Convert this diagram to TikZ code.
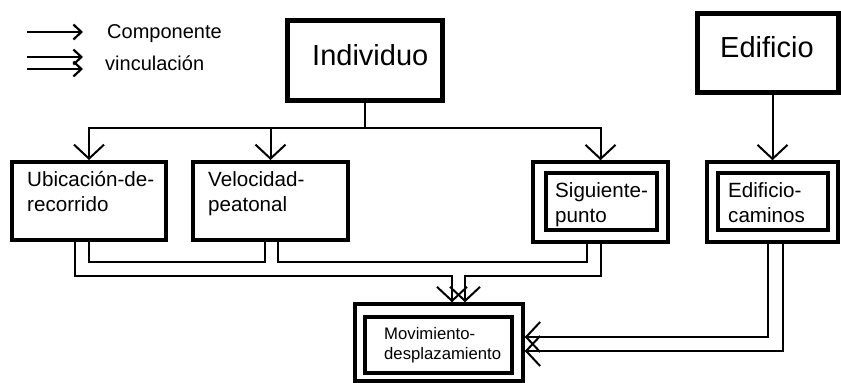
\documentclass[tikz,border=0pt]{standalone}
\usepackage{fontspec}
\setmainfont{Liberation Sans}
\usetikzlibrary{arrows.meta}
\begin{document}
\begin{tikzpicture}[x=1pt,y=-1pt,
  box/.style={draw, line width=4pt, inner sep=0pt, line join=miter},
  bigbox/.style={box, line width=5pt},
  outerbox/.style={box, line width=3.5pt},
  lbl/.style={inner sep=0pt, anchor=north west, align=left,
    font=\fontsize{20.6}{25}\selectfont},
  biglbl/.style={inner sep=0pt, anchor=base west, font=\fontsize{29}{34}\selectfont},
  link/.style={line width=2pt},
  arr/.style={link, -{Straight Barb[length=14pt,width=30pt,line join=miter]}},
  keyarr/.style={line width=2.2pt, -{Straight Barb[length=8pt,width=15pt,line join=miter]}}]
\useasboundingbox (0,0) rectangle (841,383);

% legend
\coordinate (k1a) at (27,32);  \coordinate (k1b) at (83,32);
\coordinate (k2a) at (27,57);  \coordinate (k2b) at (83,57);
\coordinate (k3a) at (27,69);  \coordinate (k3b) at (83,69);
\draw[keyarr] (k1a) -- (k1b);
\draw[keyarr] (k2a) -- (k2b);
\draw[keyarr] (k3a) -- (k3b);
\node[inner sep=0pt, anchor=base west, font=\fontsize{20}{24}\selectfont] (kcomp) at (107,38) {Componente};
\node[inner sep=0pt, anchor=base west, font=\fontsize{20}{24}\selectfont] (kvinc) at (105,70) {vinculación};

% entities
\node[bigbox, minimum width=155pt, minimum height=80pt] (ind) at (364.5,60) {};
\node[biglbl] (indt) at (312,65) {Individuo};
\node[bigbox, minimum width=141pt, minimum height=79pt] (edi) at (767.5,52.5) {};
\node[biglbl] (edit) at (720,57) {Edificio};

% components
\node[box, minimum width=154pt, minimum height=78pt] (ubi) at (89,201) {};
\node[lbl] (ubit) at (27,171) {Ubicación-de-\\recorrido};
\node[box, minimum width=155pt, minimum height=78pt] (vel) at (270.5,201) {};
\node[lbl] (velt) at (208,171) {Velocidad-\\peatonal};

% linked components
\node[outerbox, minimum width=135pt, minimum height=80pt] (sigO) at (600.5,202) {};
\node[box, minimum width=111pt, minimum height=57pt] (sigI) at (601.5,201.5) {};
\node[lbl] (sigt) at (555,182) {Siguiente-\\punto};
\node[outerbox, minimum width=131pt, minimum height=80pt] (ecO) at (772.5,202) {};
\node[box, minimum width=110pt, minimum height=57pt] (ecI) at (773,201.5) {};
\node[lbl] (ect) at (728,182) {Edificio-\\caminos};
\node[outerbox, minimum width=168pt, minimum height=77pt] (movO) at (439,342.5) {};
\node[box, minimum width=147pt, minimum height=56pt] (movI) at (438.5,345) {};
\node[lbl, font=\fontsize{16.7}{20}\selectfont] (movt) at (384,327) {Movimiento-\\desplazamiento};

% component connectors
\draw[link] (ind.south) -- (ind.south |- 0,128) coordinate (hub);
\draw[arr] (hub) -| (ubi.north);
\draw[arr] (hub) -| (vel.north);
\draw[arr] (hub) -| (sigO.north);
\draw[arr] (ecO.north |- edi.south) -- (ecO.north);

% links between components
\draw[link] (ubi.south) -- ++(0,20) -| ([xshift=-5.5pt]vel.south);
\draw[link] ([xshift=7.5pt]vel.south) -- ++(0,20) -| ([xshift=-13.5pt]sigO.south);
\draw[arr] ([xshift=-14pt]ubi.south) -- ++(0,34) -| ([xshift=13pt]movO.north);
\draw[arr] (sigO.south) -- ++(0,32) -| ([xshift=26pt]movO.north);
\draw[arr] ([xshift=-4.5pt]ecO.south) |- ([yshift=5.5pt]movO.east);
\draw[arr] ([xshift=10.5pt]ecO.south) |- ([yshift=-8.5pt]movO.east);
\end{tikzpicture}
\end{document}
